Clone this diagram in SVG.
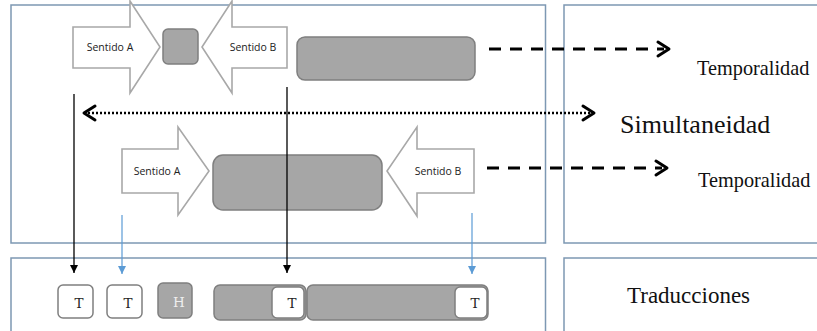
<svg xmlns="http://www.w3.org/2000/svg" width="817" height="331" viewBox="0 0 817 331">
  <style>
    .frame { fill: #ffffff; stroke: #7d98b3; stroke-width: 1.5; }
    .blockarrow { fill: #ffffff; stroke: #a8a8a8; stroke-width: 1.6; stroke-linejoin: miter; }
    .gray { fill: #a6a6a6; stroke: #7f7f7f; stroke-width: 1.5; }
    .tbox { fill: #ffffff; stroke: #7f7f7f; stroke-width: 1.5; }
    .lbl { font-family: "Open Sans", "Noto Sans", "Liberation Sans", sans-serif; font-size: 10.5px; fill: #222222; text-anchor: middle; }
    .serif { font-family: "Liberation Serif", "Times New Roman", serif; fill: #111111; }
    .tletter { font-family: "DejaVu Serif", "Liberation Serif", serif; font-size: 13.5px; fill: #222222; text-anchor: middle; }
    .dash { fill: none; stroke: #000000; stroke-width: 3; stroke-dasharray: 12 9; }
    .dots { fill: none; stroke: #000000; stroke-width: 2.5; stroke-dasharray: 2 2; }
    .chev { fill: none; stroke: #000000; stroke-width: 3; stroke-linecap: round; stroke-linejoin: round; }
    .down { fill: none; stroke: #000000; stroke-width: 1.3; }
    .downblue { fill: none; stroke: #5b9bd5; stroke-width: 1.2; }
  </style>
  <defs>
    <marker id="tri-black" viewBox="0 0 10 10" refX="10" refY="5" markerWidth="8" markerHeight="8" markerUnits="userSpaceOnUse" orient="auto">
      <path d="M0,0 L10,5 L0,10 Z" fill="#000000"/>
    </marker>
    <marker id="tri-blue" viewBox="0 0 10 10" refX="10" refY="5" markerWidth="8" markerHeight="8" markerUnits="userSpaceOnUse" orient="auto">
      <path d="M0,0 L10,5 L0,10 Z" fill="#5b9bd5"/>
    </marker>
  </defs>

  <!-- panels -->
  <g id="panel-top-left"><rect class="frame" x="11" y="5" width="534.5" height="238"/></g>
  <g id="panel-top-right"><rect class="frame" x="564" y="5" width="270" height="238"/></g>
  <g id="panel-bottom-left"><rect class="frame" x="11" y="258" width="534.5" height="90"/></g>
  <g id="panel-bottom-right"><rect class="frame" x="564" y="258" width="270" height="90"/></g>

  <!-- upper row -->
  <g id="sentido-a-top">
    <polygon class="blockarrow" points="73,27 130,27 130,1 160,47 130,93 130,68 73,68"/>
    <text class="lbl" x="110" y="51">Sentido A</text>
  </g>
  <g id="small-block"><rect class="gray" x="163" y="29" width="35" height="35" rx="5"/></g>
  <g id="sentido-b-top">
    <polygon class="blockarrow" points="287,27 232,27 232,1 202,47 232,93 232,68 287,68"/>
    <text class="lbl" x="253" y="51">Sentido B</text>
  </g>
  <g id="top-bar"><rect class="gray" x="297" y="37" width="178" height="43" rx="8"/></g>

  <!-- middle row -->
  <g id="sentido-a-mid">
    <polygon class="blockarrow" points="122,149 178,149 178,127 209,171 178,215 178,193 122,193"/>
    <text class="lbl" x="157" y="175">Sentido A</text>
  </g>
  <g id="mid-bar"><rect class="gray" x="213" y="155" width="169" height="55" rx="10"/></g>
  <g id="sentido-b-mid">
    <polygon class="blockarrow" points="474,149 417,149 417,127 387,171 417,216 417,193 474,193"/>
    <text class="lbl" x="438" y="175">Sentido B</text>
  </g>

  <!-- labels on the right -->
  <g id="temporalidad-1"><text class="serif" x="697" y="75" font-size="20.3">Temporalidad</text></g>
  <g id="simultaneidad"><text class="serif" x="620" y="133" font-size="26">Simultaneidad</text></g>
  <g id="temporalidad-2"><text class="serif" x="698" y="187" font-size="20.3">Temporalidad</text></g>
  <g id="traducciones"><text class="serif" x="627" y="303" font-size="23">Traducciones</text></g>

  <!-- translation row -->
  <g id="t1"><rect class="tbox" x="58" y="285" width="35" height="33" rx="5"/><text class="tletter" x="79" y="308">T</text></g>
  <g id="t2"><rect class="tbox" x="107" y="285" width="35" height="33" rx="5"/><text class="tletter" x="128" y="308">T</text></g>
  <g id="h"><rect class="gray" x="158" y="283" width="34" height="35" rx="5"/><text class="tletter" x="179" y="307" style="fill:#eeeeee">H</text></g>
  <g id="bar-left">
    <rect class="gray" x="214" y="285" width="92" height="35" rx="6"/>
    <rect class="tbox" x="272" y="287" width="32" height="31" rx="5"/>
    <text class="tletter" x="292" y="308">T</text>
  </g>
  <g id="bar-right">
    <rect class="gray" x="307" y="285" width="181" height="35" rx="6"/>
    <rect class="tbox" x="455" y="287" width="32" height="31" rx="5"/>
    <text class="tletter" x="475" y="308">T</text>
  </g>

  <!-- connectors -->
  <g id="connectors">
    <line class="dash" x1="489" y1="49" x2="664" y2="49"/>
    <polyline class="chev" points="658,42 669,49 658,56"/>
    <line class="dash" x1="487" y1="168" x2="662" y2="168"/>
    <polyline class="chev" points="656,161 667,168 656,175"/>
    <line class="dots" x1="88" y1="113" x2="590" y2="113"/>
    <polyline class="chev" points="95,106 84,113 95,120"/>
    <polyline class="chev" points="583,106 594,113 583,120"/>
    <line class="down" x1="74" y1="94" x2="74" y2="273" marker-end="url(#tri-black)"/>
    <line class="down" x1="287" y1="87" x2="287" y2="273" marker-end="url(#tri-black)"/>
    <line class="downblue" x1="122" y1="215" x2="122" y2="274" marker-end="url(#tri-blue)"/>
    <line class="downblue" x1="472" y1="213" x2="472" y2="274" marker-end="url(#tri-blue)"/>
  </g>
</svg>
